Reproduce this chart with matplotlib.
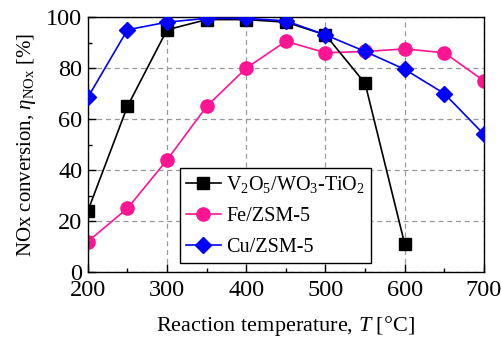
import numpy as np
import matplotlib
matplotlib.use('Agg')
import matplotlib.pyplot as plt
from matplotlib.ticker import MultipleLocator

plt.rcParams['font.family'] = 'Liberation Serif'
plt.rcParams['mathtext.fontset'] = 'custom'
plt.rcParams['mathtext.rm'] = 'Liberation Serif'
plt.rcParams['mathtext.it'] = 'Liberation Serif:italic'

# data
t_v   = [200, 250, 300, 350, 400, 450, 500, 550, 600]
eta_v = [24, 65, 95, 99, 99, 98, 93, 74, 11]
t_fe   = [200, 250, 300, 350, 400, 450, 500, 550, 600, 650, 700]
eta_fe = [12, 25, 44, 65, 80, 90.5, 86, 86.5, 87.5, 86, 75]
t_cu   = [200, 250, 300, 350, 400, 450, 500, 550, 600, 650, 700]
eta_cu = [68.5, 95, 98, 99.5, 99.5, 98.5, 93, 86.5, 79.5, 70, 54]

fig = plt.figure(figsize=(5.02, 3.41), dpi=100)
ax = fig.add_axes([0.175, 0.202, 0.789, 0.748])

ax.plot(t_v, eta_v, '-s', color='black', ms=8, lw=1.2,
        label=r'V$_2$O$_5$/WO$_3$-TiO$_2$', zorder=3)
ax.plot(t_fe, eta_fe, '-o', color='#ff1493', ms=9.5, lw=1.2,
        label='Fe/ZSM-5', zorder=2)
ax.plot(t_cu, eta_cu, '-D', color='#0000ff', ms=8.5, lw=1.2,
        label='Cu/ZSM-5', zorder=4)

ax.set_xlim(200, 700)
ax.set_ylim(0, 100)
ax.xaxis.set_major_locator(MultipleLocator(100))
ax.xaxis.set_minor_locator(MultipleLocator(50))
ax.yaxis.set_major_locator(MultipleLocator(20))
ax.yaxis.set_minor_locator(MultipleLocator(10))
ax.tick_params(which='both', direction='in', labelsize=17.5, width=1)
ax.tick_params(which='major', length=6)
ax.tick_params(which='minor', length=3)
ax.tick_params(axis='x', pad=6)
ax.tick_params(axis='y', pad=4)
ax.grid(True, which='major', ls=(0, (4, 3)), color='#999999', lw=0.9)
ax.set_axisbelow(True)
for s in ax.spines.values():
    s.set_linewidth(1)

ax.set_xlabel(r'Reaction temperature, $T$ [°C]', fontsize=16, labelpad=9)
ax.set_ylabel(r'NOx conversion, $\eta_{\mathrm{NOx}}$ [%]', fontsize=15, labelpad=6)

leg = ax.legend(loc='lower left', bbox_to_anchor=(0.232, 0.035), fontsize=14.5,
                frameon=True, fancybox=False, edgecolor='black', framealpha=1,
                handlelength=1.75, handletextpad=0.25, borderpad=0.3,
                labelspacing=0.6, borderaxespad=0)
leg.get_frame().set_linewidth(1)

fig.savefig('out.png', dpi=100)
